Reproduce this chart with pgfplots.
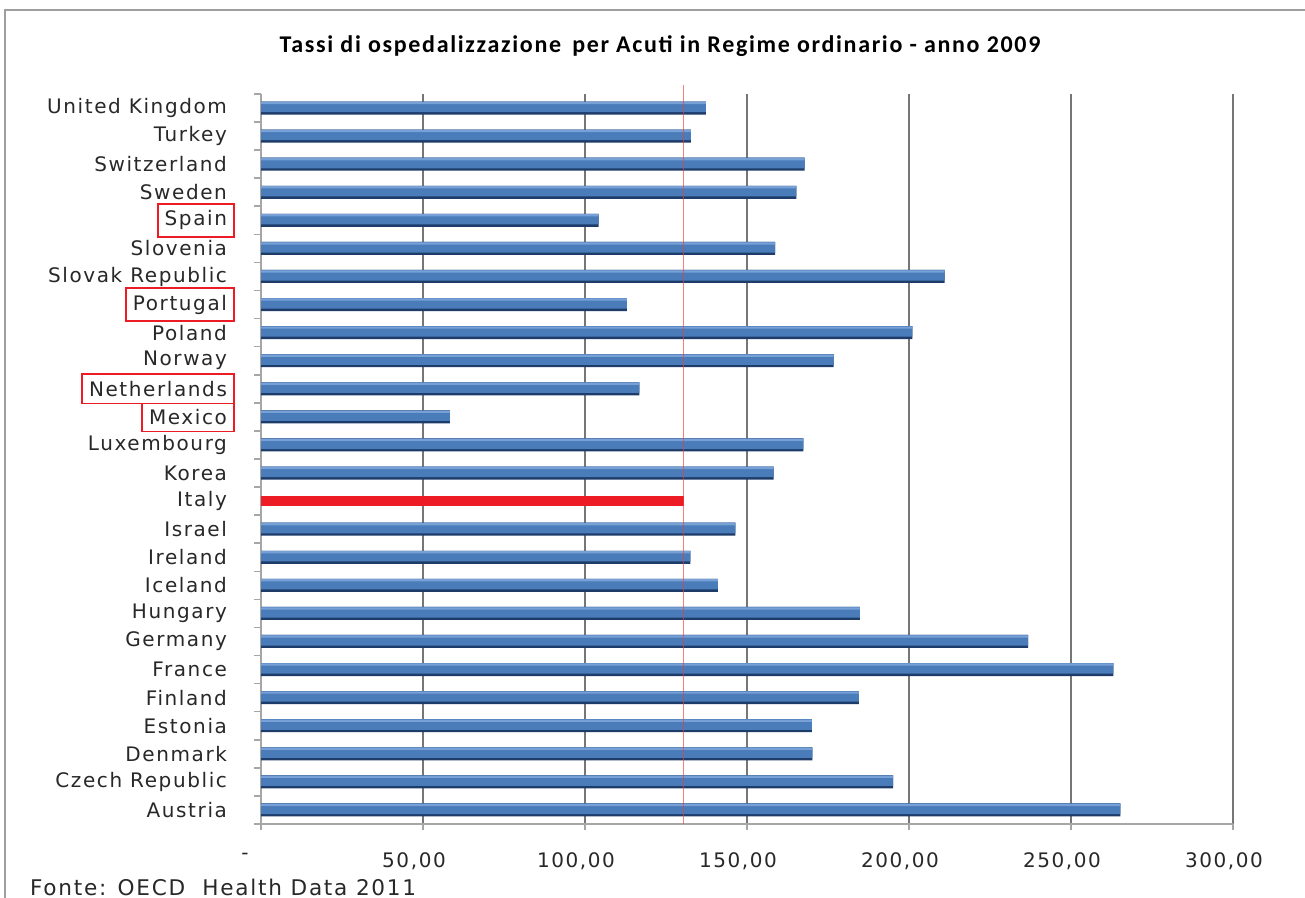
\documentclass[border=0pt]{standalone}
\usepackage{fontspec}
\setmainfont{DejaVu Sans}[LetterSpace=8]
\newfontfamily\titlefont{Carlito}[LetterSpace=7]
\usepackage{pgfplots}
\usepackage{pgfplotstable}
\pgfplotsset{compat=1.18}

\definecolor{barmid}{RGB}{74,124,186}
\definecolor{bartop}{RGB}{118,160,214}
\definecolor{barbot}{RGB}{30,60,105}
\definecolor{italyred}{RGB}{237,28,36}
\definecolor{refline}{RGB}{240,60,60}
\definecolor{gridgray}{RGB}{118,118,118}
\definecolor{labelgray}{RGB}{40,40,40}

% framed country name; the negative space keeps the text aligned with the others
\newcommand\redbox[1]{{\setlength\fboxsep{3pt}\setlength\fboxrule{0.9pt}\fcolorbox{italyred}{white}{#1}\hspace*{-3.9pt}}}

\pgfplotstableread{
pos value
0  265.2
1  195.1
2  170.2
3  170.0
4  184.5
5  263.1
6  236.8
7  184.8
8  141.0
9  132.5
10 146.4
12 158.2
13 167.4
14 58.3
15 116.8
16 176.7
17 201.0
18 112.9
19 211.0
20 158.7
21 104.2
22 165.2
23 167.8
24 132.7
25 137.3
}\rates

% Italy's rate, also used for the vertical reference line
\pgfplotstableread{
pos value
11 130.4
}\italy
\pgfplotstablegetelem{0}{value}\of{\italy}
\let\italyrate\pgfplotsretval

\begin{document}
\begin{tikzpicture}[x=1pt,y=1pt]
\clip (0,0) rectangle (652.5,449);
\fill[white] (0,0) rectangle (652.5,449);
\draw[gray!75, line width=1.2pt] (2.5,-5) -- (2.5,444) -- (660,444);

\node[font=\titlefont\bfseries\fontsize{12}{14}\selectfont, text=black] at (330,426)
  {Tassi di ospedalizzazione\, per Acuti in Regime ordinario - anno 2009};

\begin{axis}[
  at={(130.5pt,37pt)}, anchor=south west,
  width=486pt, height=365pt, scale only axis,
  xmin=0, xmax=300, ymin=-0.5, ymax=25.5,
  clip=false,
  axis lines*=left,
  axis line style={gray!70, line width=0.9pt},
  xtick={0,50,...,300},
  xticklabels={-\hspace*{7pt},{50,00},{100,00},{150,00},{200,00},{250,00},{300,00}},
  ytick={0,...,25},
  yticklabels={Austria,Czech Republic,Denmark,Estonia,Finland,France,Germany,Hungary,Iceland,Ireland,Israel,Italy,Korea,Luxembourg,\redbox{Mexico},\redbox{Netherlands},Norway,Poland,\redbox{Portugal},Slovak Republic,Slovenia,\redbox{Spain},Sweden,Switzerland,Turkey,United Kingdom},
  minor ytick={-0.5,0.5,...,25.5},
  tick align=outside,
  major tick length=3pt,
  minor tick length=3.5pt,
  every major y tick/.append style={draw=none},
  every minor y tick/.append style={gray!70, line width=0.8pt},
  every major x tick/.append style={gray!70, line width=0.8pt},
  xmajorgrids,
  grid style={gridgray, line width=1.3pt},
  ticklabel style={font=\fontsize{10}{12}\selectfont, text=labelgray},
  yticklabel style={xshift=-10.5pt},
  xticklabel style={xshift=-4.5pt, yshift=-8pt},
]
% blue bars, built up from a dark base, a mid-blue body and a light top edge
\addplot[xbar, bar shift=0pt, bar width=6.5pt, draw=none, fill=barbot]
  table[x=value, y=pos] {\rates};
\addplot[xbar, bar shift=0.6pt, bar width=5.3pt, draw=none, fill=barmid]
  table[x=value, y=pos] {\rates};
\addplot[xbar, bar shift=2.5pt, bar width=1.1pt, draw=none, fill=bartop]
  table[x=value, y=pos] {\rates};
% Italy
\addplot[xbar, bar shift=0pt, bar width=5pt, draw=none, fill=italyred]
  table[x=value, y=pos] {\italy};
% vertical reference line at Italy's rate
\draw[draw=refline, draw opacity=0.65, line width=0.8pt]
  (axis cs:\italyrate,-0.5) -- (axis cs:\italyrate,25.82);
\end{axis}

\node[anchor=base west, font=\fontsize{10.8}{12}\selectfont, text=labelgray] at (11.5,1.2)
  {Fonte: OECD\ \ Health Data 2011};
\end{tikzpicture}
\end{document}
